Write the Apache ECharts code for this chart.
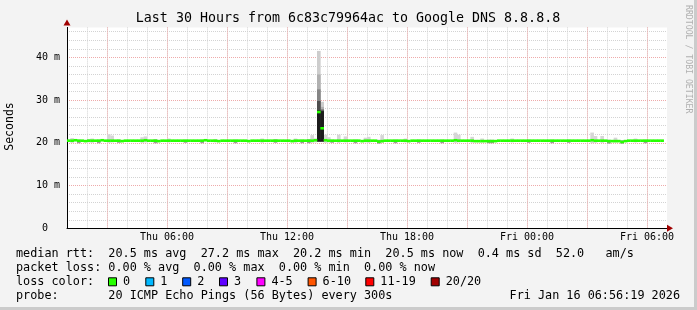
<!DOCTYPE html>
<html><head><meta charset="utf-8">
<script src="https://cdn.jsdelivr.net/npm/echarts@6/dist/echarts.min.js"></script>
<style>html,body{margin:0;padding:0;background:#f3f3f3}#c{width:697px;height:310px}</style>
</head><body><div id="c"></div>
<script>
// ---------------- data ----------------
const titleText = 'Last 30 Hours from 6c83c79964ac to Google DNS 8.8.8.8';
const yAxisName = 'Seconds';
const creditText = 'RRDTOOL / TOBI OETIKER';
const xTickLabels = ['Thu 06:00', 'Thu 12:00', 'Thu 18:00', 'Fri 00:00', 'Fri 06:00']; // at 6,12,18,24,30 h after Thu 00:00
const startHour = 1;      // first sample bin starts Thu 01:00 (hours since Thu 00:00)
const endHour = 31;       // right edge Fri 07:00
const binHours = 1 / 6;   // 10 minute bins
const yMax = 47;

// median rtt (ms) per 10-minute bin
const median = [
  20.5,20.5,20.6,20.5,20.5,20.4,20.5,20.5,20.5,20.5,20.6,20.5,
  20.5,20.5,20.5,20.5,20.4,20.5,20.5,20.5,20.5,20.5,20.5,20.6,
  20.5,20.5,20.5,20.4,20.5,20.5,20.5,20.5,20.5,20.5,20.5,20.5,
  20.5,20.5,20.5,20.5,20.5,20.6,20.5,20.5,20.5,20.4,20.5,20.5,
  20.5,20.5,20.5,20.5,20.5,20.5,20.4,20.5,20.5,20.5,20.5,20.5,
  20.5,20.5,20.5,20.5,20.5,20.5,20.5,20.4,20.5,20.5,20.5,20.5,
  20.5,20.5,20.6,27.2,23.4,20.6,20.5,20.5,20.5,20.5,20.5,20.5,
  20.5,20.5,20.5,20.5,20.4,20.5,20.5,20.5,20.5,20.3,20.4,20.5,
  20.5,20.5,20.5,20.5,20.5,20.5,20.4,20.5,20.5,20.5,20.5,20.5,
  20.5,20.5,20.5,20.5,20.5,20.5,20.5,20.5,20.6,20.5,20.5,20.5,
  20.5,20.5,20.4,20.4,20.4,20.4,20.4,20.4,20.4,20.5,20.5,20.5,
  20.5,20.5,20.5,20.5,20.5,20.5,20.5,20.5,20.5,20.5,20.5,20.5,
  20.5,20.5,20.5,20.5,20.5,20.5,20.5,20.5,20.5,20.5,20.5,20.5,
  20.5,20.6,20.5,20.5,20.5,20.5,20.4,20.4,20.4,20.4,20.2,20.4,
  20.5,20.5,20.5,20.5,20.5,20.5,20.5,20.5,20.5,20.5,20.5
];

// light outer smoke (bins with visible spread)
const noiseBins = [1,6,7,12,13,22,23,30,44,58,68,73,74,77,78,81,83,89,90,94,101,116,117,121,124,133,157,158,160,164,170];
const noiseHigh = [21.1,20.9,21.0,22.0,21.7,21.3,21.5,21.0,20.9,21.0,21.0,21.8,21.0,21.9,21.3,21.9,21.5,21.2,21.4,21.8,21.0,22.4,21.9,21.4,21.0,21.0,22.4,21.6,21.6,21.2,21.0];
const noiseLow  = [20.0,20.1,20.0,20.0,20.1,20.0,20.1,20.1,20.1,20.0,20.0,20.0,20.1,20.0,20.1,20.0,20.1,20.1,20.0,20.0,20.1,20.0,20.1,20.0,20.1,20.1,19.9,20.0,20.0,20.1,20.1];

// darker inner smoke (just under the median line)
const coreBins = [3,9,15,26,35,40,50,62,70,72,79,86,93,98,105,112,126,127,138,145,150,162,166,173];
const coreHigh = [20.7,20.7,20.7,20.8,20.7,20.7,20.7,20.8,20.7,20.8,20.7,20.7,20.7,20.7,20.7,20.7,20.7,20.7,20.7,20.7,20.7,20.7,20.6,20.7];
const coreLow  = [19.9,19.9,20.0,19.9,20.0,19.9,19.9,20.0,19.9,19.9,20.0,19.9,19.8,19.9,20.0,19.9,19.9,19.9,20.0,19.9,20.0,19.8,19.8,19.9];

// the spike around Thu 13:40
const spikeBins  = [75, 76];
const spikeLow   = [20.3, 20.3];
const spikeOuter = [41.5, 29.6];
const spikeL2    = [36.0, 28.4];
const spikeL3    = [32.5, 27.9];
const spikeL4    = [29.8, 27.6];
const spikeCore  = [27.6, 27.4];

// legend
const rttLabel = 'median rtt:';
const rttItems = ['20.5 ms avg', '27.2 ms max', '20.2 ms min', '20.5 ms now', '0.4 ms sd', '52.0', 'am/s'];
const lossLabel = 'packet loss:';
const lossItems = ['0.00 % avg', '0.00 % max', '0.00 % min', '0.00 % now'];
const lossColorLabel = 'loss color:';
const lossColorNames = ['0', '1', '2', '3', '4-5', '6-10', '11-19', '20/20'];
const lossColors = ['#26ff00', '#00b8ff', '#0059ff', '#5e00ff', '#ff00ff', '#ff5500', '#ff0000', '#a10000'];
const probeLabel = 'probe:';
const probeText = '20 ICMP Echo Pings (56 Bytes) every 300s';
const stampText = 'Fri Jan 16 06:56:19 2026';

// ---------------- layout / style ----------------
const FONT = 'DejaVu Sans Mono';
const GRAY = '#d3d3d3';
const RED = '#eeaaaa';
const ARROW = '#a00000';
const swatchX = [108, 145.3, 182.2, 219, 256.4, 307.6, 365.3, 430.7];
const rowY = [254.3, 268.3, 282.3, 296.2];
const legendFont = '11.8px "' + FONT + '"';
const sp = n => ' '.repeat(n);
const rttRow = rttLabel + sp(2) + rttItems.slice(0, 5).join(sp(2)) + sp(2) + rttItems[5] + sp(3) + rttItems[6];
const lossRow = lossLabel + sp(1) + lossItems.join(sp(2));
const probeRow = probeLabel + sp(7) + probeText;

function rectSeries(bins, lo, hi, color, z) {
  return {
    type: 'custom', xAxisIndex: 0, yAxisIndex: 0, silent: true, z: z,
    encode: { x: 0, y: [1, 2] },
    data: bins.map((b, k) => [startHour + (b + 0.5) * binHours, lo[k], hi[k]]),
    renderItem(params, api) {
      const x = api.value(0);
      const a = api.coord([x - binHours / 2, api.value(2)]);
      const b = api.coord([x + binHours / 2, api.value(1)]);
      return { type: 'rect', shape: { x: a[0], y: a[1], width: b[0] - a[0] + 0.3, height: b[1] - a[1] }, style: { fill: color } };
    }
  };
}

const medianSeries = {
  type: 'custom', xAxisIndex: 0, yAxisIndex: 0, silent: true, z: 10,
  encode: { x: 0, y: 1 },
  data: median.map((v, i) => [startHour + (i + 0.5) * binHours, v]),
  renderItem(params, api) {
    const x = api.value(0);
    const a = api.coord([x - binHours / 2, api.value(1)]);
    const b = api.coord([x + binHours / 2, api.value(1)]);
    return { type: 'rect', shape: { x: a[0], y: a[1] - 1.3, width: b[0] - a[0] + 0.3, height: 2.6 }, style: { fill: lossColors[0] } };
  }
};

const graphics = [];
function txt(x, y, text, font, align) {
  graphics.push({ type: 'text', x: x, y: y, silent: true,
    style: { text: text, font: font, fill: '#000', align: align || 'left', verticalAlign: 'middle' } });
}
// title
txt(348, 19, titleText, '13.3px "' + FONT + '"', 'center');
// y axis name
graphics.push({ type: 'text', x: 10, y: 126.5, rotation: Math.PI / 2, silent: true,
  style: { text: yAxisName, font: '11.5px "' + FONT + '"', fill: '#000', align: 'center', verticalAlign: 'middle' } });
// credit
graphics.push({ type: 'text', x: 688, y: 5, rotation: -Math.PI / 2, silent: true,
  style: { text: creditText, font: '8.2px "' + FONT + '"', fill: '#b0b0b0', align: 'left', verticalAlign: 'middle' } });
// legend rows
txt(16, rowY[0], rttRow, legendFont);
txt(16, rowY[1], lossRow, legendFont);
txt(16, rowY[2], lossColorLabel, legendFont);
lossColorNames.forEach((t, k) => {
  graphics.push({ type: 'rect', silent: true, shape: { x: swatchX[k] + 0.5, y: rowY[2] - 4.5, width: 8, height: 8 },
    style: { fill: lossColors[k], stroke: '#000', lineWidth: 1 } });
  txt(swatchX[k] + 15, rowY[2], t, legendFont);
});
txt(16, rowY[3], probeRow, legendFont);
txt(680, rowY[3], stampText, legendFont, 'right');
// frame shading
graphics.push({ type: 'rect', silent: true, shape: { x: 694, y: 0, width: 3, height: 310 }, style: { fill: '#cbcbcb' } });
graphics.push({ type: 'rect', silent: true, shape: { x: 0, y: 307, width: 697, height: 3 }, style: { fill: '#cbcbcb' } });

const hidden = { axisTick: { show: false }, axisLabel: { show: false } };
const gridLines = (color) => ({ show: true, showMinLine: false, showMaxLine: false, lineStyle: { color: color, width: 1, type: [1, 1] } });

const option = {
  animation: false,
  backgroundColor: '#f3f3f3',
  textStyle: { fontFamily: FONT },
  graphic: { elements: graphics },
  grid: [
    { left: 67, right: 30, top: 27.4, bottom: 81.7, show: true, backgroundColor: '#ffffff', borderWidth: 0 },
    { left: 47, right: 30, top: 27.4, bottom: 81.7, show: false }
  ],
  xAxis: [
    Object.assign({ type: 'value', gridIndex: 0, min: startHour, max: endHour, position: 'bottom', z: 4,
      axisLine: { show: true, onZero: false, lineStyle: { color: '#000', width: 1 } }, splitLine: { show: false } }, hidden),
    Object.assign({ type: 'value', gridIndex: 0, min: startHour, max: endHour, position: 'bottom', z: 5,
      axisLine: { show: true, onZero: false, symbol: ['none', 'triangle'], symbolSize: [7, 6], symbolOffset: [0, 3], lineStyle: { color: ARROW, width: 0 } },
      splitLine: { show: false } }, hidden),
    Object.assign({ type: 'value', gridIndex: 1, min: 0, max: endHour, interval: 1, position: 'bottom',
      axisLine: { show: false }, splitLine: gridLines(GRAY) }, hidden),
    Object.assign({ type: 'value', gridIndex: 1, min: 0, max: endHour, interval: 3, position: 'bottom',
      axisLine: { show: false }, splitLine: gridLines(RED) }, hidden),
    { type: 'value', gridIndex: 1, min: 0, max: endHour, interval: 6, position: 'bottom',
      axisLine: { show: false }, axisTick: { show: false }, splitLine: { show: false },
      axisLabel: { show: true, showMinLabel: false, showMaxLabel: false, margin: 4, color: '#000', fontSize: 10, fontFamily: FONT,
        formatter: v => xTickLabels[v / 6 - 1] || '' } }
  ],
  yAxis: [
    Object.assign({ type: 'value', gridIndex: 0, min: 0, max: yMax, interval: 2, position: 'left',
      axisLine: { show: false }, splitLine: gridLines(GRAY) }, hidden),
    { type: 'value', gridIndex: 0, min: 0, max: yMax, interval: 10, position: 'left',
      axisLine: { show: false }, axisTick: { show: false }, splitLine: gridLines(RED),
      axisLabel: { show: true, showMaxLabel: false, margin: 7, color: '#000', fontSize: 10, fontFamily: FONT,
        formatter: v => (v === 0 ? '0  ' : v + ' m') } },
    Object.assign({ type: 'value', gridIndex: 0, min: 0, max: yMax, position: 'left', z: 4,
      axisLine: { show: true, onZero: false, lineStyle: { color: '#000', width: 1 } }, splitLine: { show: false } }, hidden),
    Object.assign({ type: 'value', gridIndex: 0, min: 0, max: yMax, position: 'left', z: 5,
      axisLine: { show: true, onZero: false, symbol: ['none', 'triangle'], symbolSize: [7, 6], symbolOffset: [0, 5], lineStyle: { color: ARROW, width: 0 } },
      splitLine: { show: false } }, hidden),
    { type: 'value', gridIndex: 1, min: 0, max: yMax, show: false }
  ],
  series: [
    rectSeries(noiseBins, noiseLow, noiseHigh, '#d6d6d6', 3),
    rectSeries(coreBins, coreLow, coreHigh, '#9c9c9c', 4),
    rectSeries(spikeBins, spikeLow, spikeOuter, '#cdcdcd', 5),
    rectSeries(spikeBins, spikeLow, spikeL2, '#b0b0b0', 6),
    rectSeries(spikeBins, spikeLow, spikeL3, '#858585', 7),
    rectSeries(spikeBins, spikeLow, spikeL4, '#4e4e4e', 8),
    rectSeries(spikeBins, spikeLow, spikeCore, '#1c1c1c', 9),
    medianSeries
  ]
};
const chart = echarts.init(document.getElementById('c'), null, { renderer: 'canvas' });
chart.setOption(option);
</script>
</body></html>
